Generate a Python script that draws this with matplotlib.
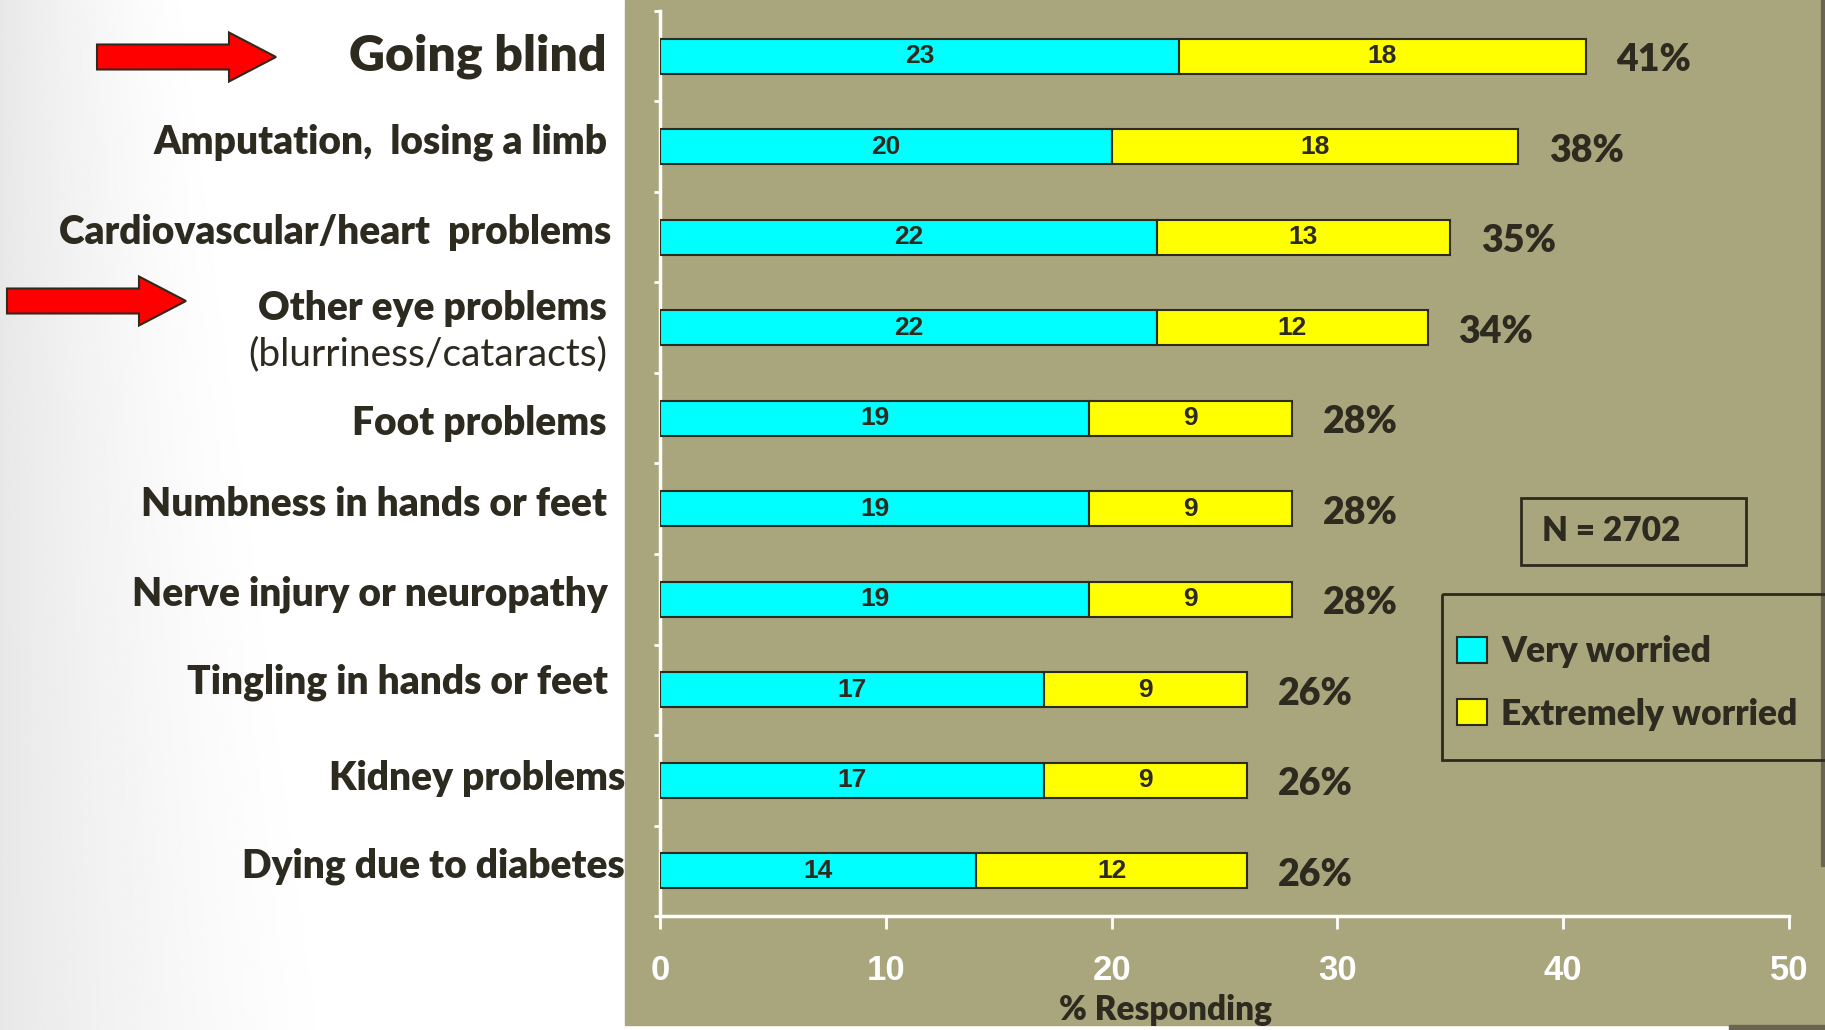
import matplotlib.pyplot as plt
import numpy as np
from matplotlib.patches import Rectangle, FancyArrow, Patch
from matplotlib.transforms import blended_transform_factory

# survey: how worried are people about each diabetes complication (% responding)
concerns = ["Going blind", "Amputation,  losing a limb", "Cardiovascular/heart  problems",
            "Other eye problems", "Foot problems", "Numbness in hands or feet",
            "Nerve injury or neuropathy", "Tingling in hands or feet", "Kidney problems",
            "Dying due to diabetes"]
very_worried = [23, 20, 22, 22, 19, 19, 19, 17, 17, 14]
extremely_worried = [18, 18, 13, 12, 9, 9, 9, 9, 9, 12]
totals = [41, 38, 35, 34, 28, 28, 28, 26, 26, 26]
x_ticks = [0, 10, 20, 30, 40, 50]
n_respondents = 2702

W, H = 1825, 1030
PANEL = "#a9a57c"
INK = "#2d2a1f"
CYAN = "#00ffff"
YELLOW = "#ffff00"
LABEL_FONT = ["Lato", "DejaVu Sans"]
NUM_FONT = ["Liberation Sans", "DejaVu Sans"]
WEIGHT = "heavy"

fig = plt.figure(figsize=(W / 100, H / 100), dpi=100, facecolor="white")

# background layer in pixel units, origin at the top left
bg = fig.add_axes([0, 0, 1, 1])
bg.set_xlim(0, W)
bg.set_ylim(H, 0)
bg.axis("off")

# soft grey shading on the left edge of the slide
gx, gy = np.meshgrid(np.linspace(0, 1, 200), np.linspace(0, 1, 200))
shade = 1 - 0.09 * np.clip(1 - gx / (0.45 + 0.35 * gy), 0, 1) ** 1.5
bg.imshow(shade, cmap="gray", vmin=0, vmax=1, extent=(0, 450, H, 0), aspect="auto", zorder=0)

bg.add_patch(Rectangle((625, 0), 1200, 1025, color=PANEL, zorder=1))
bg.plot([1823, 1823], [0, 865], color="#6b6450", lw=3, zorder=2)
bg.add_patch(Rectangle((1729, 1025), 96, 5, color="#6b6450", zorder=2))

# red arrows pointing at the eye-related items
for x0, yc in [(97, 57), (7, 301)]:
    bg.add_patch(FancyArrow(x0, yc, 179, 0, width=25, head_width=49, head_length=47,
                            length_includes_head=True, fc="#ff0000", ec=INK, lw=1.5, zorder=3))

# N box and legend box
bg.add_patch(Rectangle((1521, 498), 225, 67, fc="none", ec=INK, lw=2, zorder=3))
bg.text(1542, 531, f"N = {n_respondents}", family=LABEL_FONT, fontsize=24, fontweight=WEIGHT,
        color=INK, va="center", ha="left", zorder=4)
bg.add_patch(Rectangle((1442, 594), 400, 166, fc="none", ec=INK, lw=2, zorder=3))

ax = fig.add_axes([660 / W, 1 - 916 / H, 1129 / W, 905 / H])
ax.set_facecolor("none")
rows = np.arange(len(concerns))
bars_v = ax.barh(rows, very_worried, height=0.39, color=CYAN, edgecolor=INK, lw=1.5,
                 label="Very worried", zorder=3)
bars_e = ax.barh(rows, extremely_worried, left=very_worried, height=0.39, color=YELLOW,
                 edgecolor=INK, lw=1.5, label="Extremely worried", zorder=3)
for bars in (bars_v, bars_e):
    ax.bar_label(bars, label_type="center", family=NUM_FONT, fontsize=19,
                 fontweight="bold", color=INK)
for r, t in zip(rows, totals):
    ax.annotate(f"{t}%", (t, r), xytext=(22, -3), textcoords="offset points", ha="left",
                va="center", family=LABEL_FONT, fontsize=27, fontweight=WEIGHT, color=INK)

ax.set_xlim(0, 50)
ax.set_ylim(len(concerns) - 0.5, -0.5)
ax.set_xticks(x_ticks)
ax.set_xticklabels([str(t) for t in x_ticks], family=NUM_FONT, fontsize=25,
                   fontweight="bold", color="white")
ax.tick_params(axis="x", direction="out", length=9, width=2, color="white", pad=18)
ax.set_yticks([])
ax.set_yticks(np.arange(len(concerns) + 1) - 0.5, minor=True)
ax.tick_params(axis="y", which="minor", direction="out", length=4, width=2, color="white")
for side in ("top", "right"):
    ax.spines[side].set_visible(False)
for side in ("left", "bottom"):
    ax.spines[side].set_color("white")
    ax.spines[side].set_linewidth(2.5)

# category labels to the left of the panel
lbl = blended_transform_factory(bg.transData, ax.transData)
label_right = [607, 608, 611, 607, 607, 607, 608, 608, 625, 625]
label_dy = [0, -0.05, -0.05, -0.21, 0.06, -0.05, -0.05, -0.08, -0.02, -0.05]
for r, (name, xr, dy) in enumerate(zip(concerns, label_right, label_dy)):
    size = 36 if r == 0 else 28
    ax.text(xr, r + dy, name, transform=lbl, ha="right", va="center", family=LABEL_FONT,
            fontsize=size, fontweight=WEIGHT, color=INK)
ax.text(label_right[3], 3 + 0.29, "(blurriness/cataracts)", transform=lbl, ha="right",
        va="center", family=LABEL_FONT, fontsize=28, color=INK)

bg.text(1166, 1010, "% Responding", family=LABEL_FONT, fontsize=24, fontweight=WEIGHT,
        color=INK, ha="center", va="center", zorder=4)

leg = ax.legend(handles=[Patch(fc=CYAN, ec=INK, lw=1.5), Patch(fc=YELLOW, ec=INK, lw=1.5)],
                labels=["Very worried", "Extremely worried"], loc="center left",
                bbox_to_anchor=(1457, 683), bbox_transform=bg.transData, frameon=False,
                borderpad=0, borderaxespad=0, handlelength=0.85, handleheight=0.76,
                handletextpad=0.4, labelspacing=0.83,
                prop={"family": LABEL_FONT, "size": 25.5, "weight": WEIGHT})
for t in leg.get_texts():
    t.set_color(INK)

fig.savefig("out.png", dpi=100, facecolor="white")
